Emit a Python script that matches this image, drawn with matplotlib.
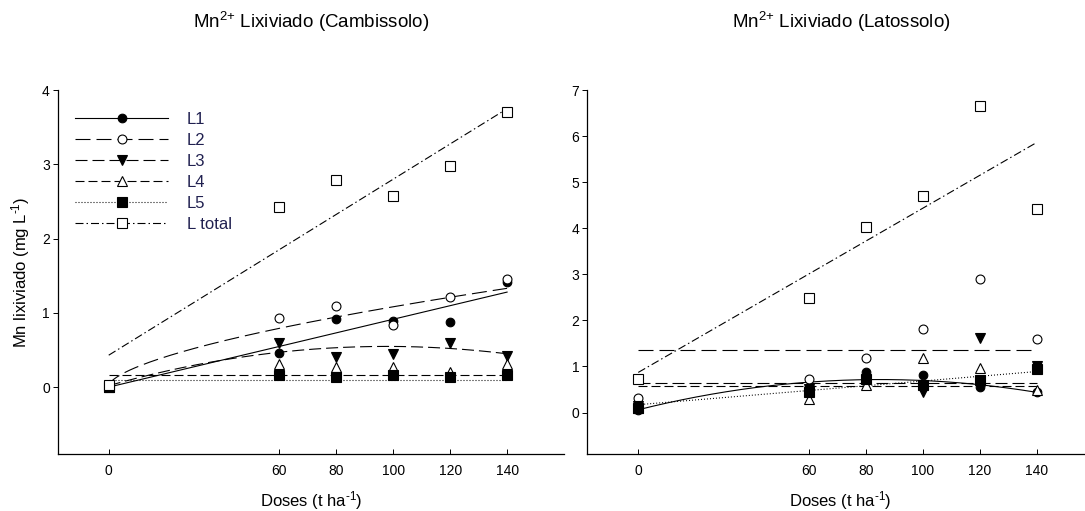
import numpy as np
import matplotlib
matplotlib.use("Agg")
import matplotlib.pyplot as plt
from matplotlib.lines import Line2D

plt.rcParams['font.family'] = ['Liberation Sans', 'DejaVu Sans']
plt.rcParams['mathtext.fontset'] = 'custom'
plt.rcParams['mathtext.rm'] = 'Liberation Sans'
plt.rcParams['mathtext.default'] = 'regular'
plt.rcParams['lines.scale_dashes'] = False

# ---------------- data ----------------
doses = [0, 60, 80, 100, 120, 140]
series = ['L1', 'L2', 'L3', 'L4', 'L5', 'L total']

# Cambissolo (left panel)
camb_L1 = [0.00, 0.46, 0.92, 0.89, 0.88, 1.41]
camb_L2 = [0.03, 0.93, 1.09, 0.84, 1.22, 1.46]
camb_L3 = [0.00, 0.59, 0.41, 0.45, 0.59, 0.42]
camb_L4 = [0.00, 0.31, 0.27, 0.27, 0.21, 0.31]
camb_L5 = [0.00, 0.16, 0.14, 0.16, 0.13, 0.16]
camb_Lt = [0.03, 2.42, 2.79, 2.57, 2.98, 3.70]

# Latossolo (right panel)
lat_L1 = [0.05, 0.55, 0.87, 0.82, 0.55, 0.44]
lat_L2 = [0.31, 0.72, 1.18, 1.81, 2.90, 1.59]
lat_L3 = [0.15, 0.50, 0.62, 0.44, 1.61, 1.02]
lat_L4 = [0.10, 0.30, 0.60, 1.18, 0.96, 0.49]
lat_L5 = [0.10, 0.45, 0.72, 0.60, 0.70, 0.95]
lat_Lt = [0.73, 2.49, 4.02, 4.70, 6.65, 4.42]

# fitted regression curves
# ('poly', [c0, c1, c2]) -> c0 + c1*x + c2*x^2 ; ('power', [a, b, p]) -> a + b*x^p
camb_fits = [('poly', [0.00, 0.00914, 0.0]),
             ('power', [0.02, 0.0600, 0.624]),
             ('poly', [0.02, 0.01082, -5.54e-5]),
             ('poly', [0.16, 0.0, 0.0]),
             ('poly', [0.09, 0.0, 0.0]),
             ('poly', [0.43, 0.0237, 0.0])]
lat_fits = [('poly', [0.06, 0.01546, -9.11e-5]),
            ('poly', [1.35, 0.0, 0.0]),
            ('poly', [0.64, 0.0, 0.0]),
            ('poly', [0.58, 0.0, 0.0]),
            ('poly', [0.17, 0.00514, 0.0]),
            ('poly', [0.87, 0.03564, 0.0])]

titles = [r'Mn$^{2{+}}$ Lixiviado (Cambissolo)', r'Mn$^{2{+}}$ Lixiviado (Latossolo)']
xlabel = r'Doses (t ha$^{\text{-}1}$)'
ylabel = r'Mn lixiviado (mg L$^{\text{-}1}$)'
xticks = [0, 60, 80, 100, 120, 140]
left_yticks = [0, 1, 2, 3, 4]
right_yticks = [0, 1, 2, 3, 4, 5, 6, 7]

# ---------------- styles ----------------
px = 0.72  # points per pixel at dpi 100
styles = {
    'L1': dict(ls='-', marker='o', mfc='black', ms=6.2),
    'L2': dict(ls=(0, (15 * px, 6 * px)), marker='o', mfc='white', ms=6.4),
    'L3': dict(ls=(0, (12 * px, 5 * px)), marker='v', mfc='black', ms=7.0),
    'L4': dict(ls=(0, (9 * px, 4 * px)), marker='^', mfc='white', ms=7.0),
    'L5': dict(ls=(0, (1 * px, 2 * px)), marker='s', mfc='black', ms=6.5),
    'L total': dict(ls=(0, (8 * px, 3 * px, 1.5 * px, 3 * px)), marker='s', mfc='white', ms=7.0),
}


def eval_fit(fit, x):
    kind, p = fit
    if kind == 'poly':
        return p[0] + p[1] * x + p[2] * x ** 2
    return p[0] + p[1] * np.power(x, p[2])


W, H = 1085, 511
fig = plt.figure(figsize=(W / 100, H / 100), dpi=100)
ax_l = fig.add_axes([57.5 / W, 1 - 454 / H, 506.5 / W, 364 / H])
ax_r = fig.add_axes([587 / W, 1 - 454 / H, 506.5 / W, 364 / H])

xs = np.linspace(0, 140, 300)
panels = [
    (ax_l, [camb_L1, camb_L2, camb_L3, camb_L4, camb_L5, camb_Lt], camb_fits, (-0.9, 4), left_yticks),
    (ax_r, [lat_L1, lat_L2, lat_L3, lat_L4, lat_L5, lat_Lt], lat_fits, (-0.9, 7), right_yticks),
]

for ax, data, fits, ylim, yt in panels:
    for name, vals, fit in zip(series, data, fits):
        st = styles[name]
        ax.plot(xs, eval_fit(fit, xs), color='black', lw=0.8, linestyle=st['ls'], zorder=2)
        ax.plot(doses, vals, linestyle='none', marker=st['marker'], ms=st['ms'],
                mfc=st['mfc'], mec='black', mew=0.8, zorder=3, clip_on=False)
    ax.set_xlim(-18, 160)
    ax.set_ylim(*ylim)
    ax.set_xticks(xticks)
    ax.set_yticks(yt)
    for s in ['top', 'right']:
        ax.spines[s].set_visible(False)
    for s in ['left', 'bottom']:
        ax.spines[s].set_linewidth(0.9)
    ax.tick_params(axis='x', direction='in', length=3.5, width=0.7, pad=7, labelsize=10)
    ax.tick_params(axis='y', direction='out', length=3.5, width=0.7, pad=2, labelsize=10)
    ax.set_xlabel(xlabel, fontsize=12, labelpad=8)

ax_l.set_ylabel(ylabel, fontsize=12, labelpad=7)

fig.text(311 / W, 1 - 22 / H, titles[0], ha='center', va='center', fontsize=13.5)
fig.text(841 / W, 1 - 22 / H, titles[1], ha='center', va='center', fontsize=13.5)

handles = []
for name in series:
    st = styles[name]
    handles.append(Line2D([], [], color='black', lw=0.8, linestyle=st['ls'], marker=st['marker'],
                          ms=st['ms'], mfc=st['mfc'], mec='black', mew=0.8))
leg = ax_l.legend(handles, series, loc='upper left', bbox_to_anchor=(17.5 / 506.5, (454 - 112) / 364),
                  frameon=False, fontsize=12, handlelength=5.6, handletextpad=1.1,
                  labelspacing=0.36, borderpad=0, borderaxespad=0, numpoints=1)
for t in leg.get_texts():
    t.set_color('#202050')

fig.savefig('out.png', dpi=100)
